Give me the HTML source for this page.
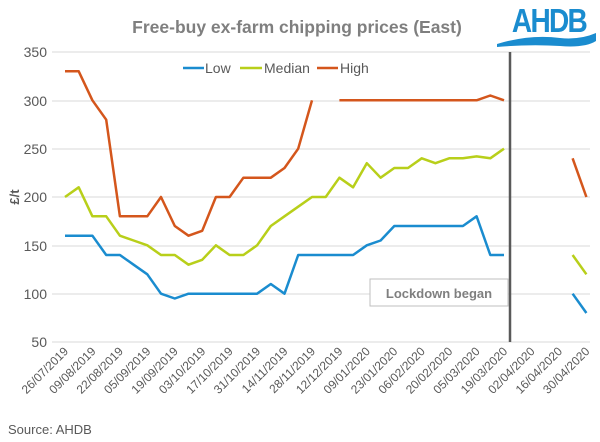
<!DOCTYPE html>
<html><head><meta charset="utf-8"><style>
body{margin:0;background:#fff;}
svg{display:block;font-family:"Liberation Sans",Arial,sans-serif;}
</style></head><body>
<svg width="600" height="442" viewBox="0 0 600 442" xmlns="http://www.w3.org/2000/svg">
<rect width="600" height="442" fill="#fff"/>
<text x="297" y="33" text-anchor="middle" font-size="17.5" font-weight="bold" fill="#7f7f7f">Free-buy ex-farm chipping prices (East)</text>
<text x="549" y="32" text-anchor="middle" font-size="33" font-weight="bold" fill="#1a8ccf" letter-spacing="-2" transform="translate(549,0) scale(0.85,1) translate(-549,0)">AHDB</text>
<path d="M497 44 Q530 34 560 38 Q580 40 596 33 L596 41 Q585 48 560 46 Q530 44 497 47 Z" fill="#1a8ccf"/>
<g stroke="#d9d9d9" stroke-width="1">
<line x1="52" y1="52" x2="590" y2="52"/><line x1="52" y1="101" x2="590" y2="101"/>
<line x1="52" y1="149" x2="590" y2="149"/><line x1="52" y1="197" x2="590" y2="197"/>
<line x1="52" y1="246" x2="590" y2="246"/><line x1="52" y1="294" x2="590" y2="294"/>
<line x1="52" y1="342" x2="590" y2="342"/>
</g>
<g font-size="14" fill="#595959" text-anchor="end">
<text x="47" y="57">350</text><text x="47" y="106">300</text><text x="47" y="154">250</text>
<text x="47" y="202">200</text><text x="47" y="251">150</text><text x="47" y="299">100</text>
<text x="47" y="347">50</text>
</g>
<text transform="translate(19,197) rotate(-90)" text-anchor="middle" font-size="13" font-weight="bold" fill="#595959">£/t</text>
<line x1="510" y1="52" x2="510" y2="342" stroke="#595959" stroke-width="2.5"/>
<rect x="370" y="279" width="138" height="27" fill="#fff" stroke="#bfbfbf"/>
<text x="439" y="298" text-anchor="middle" font-size="13" font-weight="bold" fill="#7f7f7f">Lockdown began</text>
<g id="series" fill="none" stroke-width="2.5" stroke-linejoin="round"></g>
<g stroke-width="2.5">
<line x1="183" y1="68" x2="204" y2="68" stroke="#1a8ccf"/>
<line x1="240" y1="68" x2="262" y2="68" stroke="#b8cf1a"/>
<line x1="317" y1="68" x2="338" y2="68" stroke="#d4561c"/>
</g>
<g font-size="14" fill="#595959">
<text x="205" y="73">Low</text><text x="264" y="73">Median</text><text x="340" y="73">High</text>
</g>
<g id="xl" font-size="12" fill="#595959" text-anchor="end"></g>
<text x="8" y="434" font-size="13" fill="#595959">Source: AHDB</text>
<script>
const X=i=>65+13.72*i, Y=v=>342-(v-50)*0.9667;
const low=[160,160,160,140,140,130,120,100,95,100,100,100,100,100,100,110,100,140,140,140,140,140,150,155,170,170,170,170,170,170,180,140,140];
const med=[200,210,180,180,160,155,150,140,140,130,135,150,140,140,150,170,180,190,200,200,220,210,235,220,230,230,240,235,240,240,242,240,250];
const high=[330,330,300,280,180,180,180,200,170,160,165,200,200,220,220,220,230,250,300,null,300,300,300,300,300,300,300,300,300,300,300,305,300];
const g=document.getElementById('series');
function poly(arr,c,off){let segs=[],cur=[];arr.forEach((v,i)=>{if(v==null){if(cur.length)segs.push(cur);cur=[];}else cur.push(X(i+off).toFixed(1)+','+Y(v).toFixed(1));});if(cur.length)segs.push(cur);
segs.forEach(s=>{const p=document.createElementNS('http://www.w3.org/2000/svg','polyline');p.setAttribute('points',s.join(' '));p.setAttribute('stroke',c);g.appendChild(p);});}
poly(low,'#1a8ccf',0);poly(med,'#b8cf1a',0);poly(high,'#d4561c',0);
poly([100,80],'#1a8ccf',37);poly([140,120],'#b8cf1a',37);poly([240,200],'#d4561c',37);
const labs=["26/07/2019","09/08/2019","22/08/2019","05/09/2019","19/09/2019","03/10/2019","17/10/2019","31/10/2019","14/11/2019","28/11/2019","12/12/2019","09/01/2020","23/01/2020","06/02/2020","20/02/2020","05/03/2020","19/03/2020","02/04/2020","16/04/2020","30/04/2020"];
const xl=document.getElementById('xl');
labs.forEach((l,k)=>{const t=document.createElementNS('http://www.w3.org/2000/svg','text');const x=X(2*k)+4,y=352;t.setAttribute('transform',`translate(${x},${y}) rotate(-45)`);t.textContent=l;xl.appendChild(t);});
</script>
</svg>
</body></html>
